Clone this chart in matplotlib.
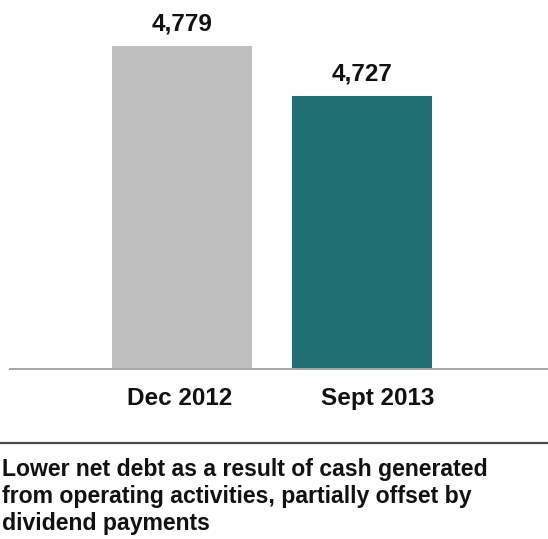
import matplotlib
matplotlib.use("Agg")
import matplotlib.pyplot as plt
import matplotlib.transforms as mtransforms

plt.rcParams['font.family'] = ['Liberation Sans', 'DejaVu Sans']

categories = ["Dec 2012", "Sept 2013"]
values = [4779, 4727]
value_labels = ["4,779", "4,727"]
caption = ("Lower net debt as a result of cash generated\n"
           "from operating activities, partially offset by\n"
           "dividend payments")

colors = ["#bfbfbf", "#1e6f71"]

W, H = 548, 539
fig = plt.figure(figsize=(W / 100, H / 100), dpi=100)

# plot area: from x=10px to right edge, baseline at y=369px down to top
ax = fig.add_axes([10 / W, (H - 369) / H, (W - 10) / W, 369 / H])
x = list(range(len(categories)))
ax.bar(x, values, width=0.778, color=colors, bottom=0)
ax.set_ylim(4443, 4827)
ax.set_xlim(-0.956, 2.033)

for xi, v, lab in zip(x, values, value_labels):
    ax.annotate(lab, (xi, v), xytext=(0, 11.5), textcoords="offset points",
                ha="center", va="baseline", fontsize=17.5, fontweight="bold",
                color="#111111")

for s in ["top", "right", "left"]:
    ax.spines[s].set_visible(False)
ax.spines["bottom"].set_color("#a6a6a6")
ax.spines["bottom"].set_linewidth(1.4)
ax.set_yticks([])
ax.set_xticks(x)
ax.set_xticklabels(categories, fontsize=17.5, fontweight="bold", color="#111111")
ax.tick_params(axis="x", length=0, pad=13)
shifts = [-2, 16]
for lbl, dx in zip(ax.get_xticklabels(), shifts):
    lbl.set_transform(lbl.get_transform() +
                      mtransforms.ScaledTranslation(dx / 100, 0, fig.dpi_scale_trans))

# separator rule above the caption
fig.add_artist(plt.Line2D([0, 1], [(H - 443) / H] * 2, color="#4a4a4a",
                          linewidth=1.6, transform=fig.transFigure))

fig.text(2 / W, (H - 458) / H, caption, ha="left", va="top", fontsize=16.6,
         fontweight="bold", color="#111111", linespacing=1.23)

fig.savefig("out.png", dpi=100)
